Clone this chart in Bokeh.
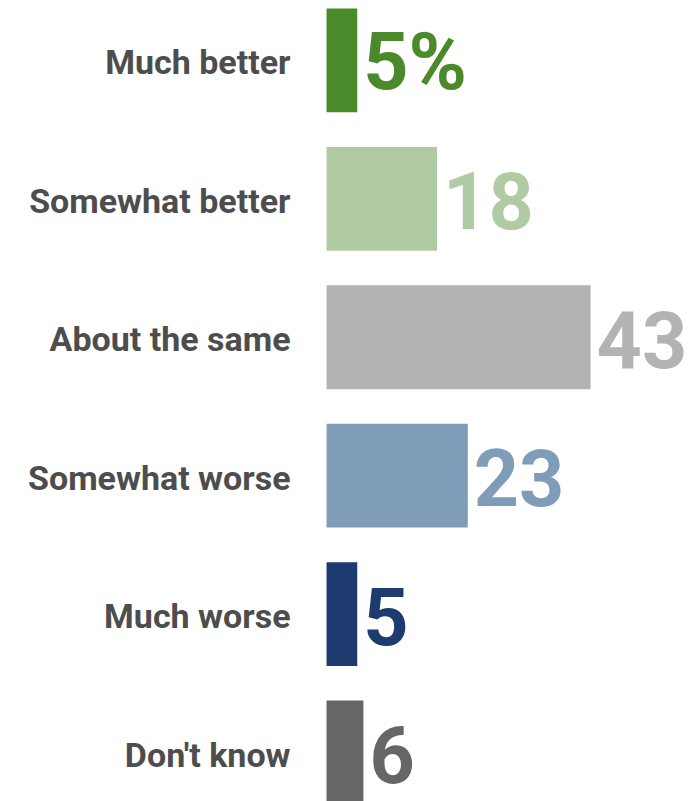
from bokeh.plotting import figure
from bokeh.models import ColumnDataSource, Range1d
from bokeh.core.properties import value
from bokeh.embed import file_html
from bokeh.resources import INLINE

categories = ["Much better", "Somewhat better", "About the same", "Somewhat worse", "Much worse", "Don't know"]
values = [5, 18, 43, 23, 5, 6]
value_labels = ["5%", "18", "43", "23", "5", "6"]
colors = ["#4b8a2b", "#b0cba4", "#b3b3b3", "#7f9db8", "#1d3b6f", "#666666"]

pos = list(range(len(categories)))
src = ColumnDataSource(dict(y=pos, v=values, cat=categories, lab=value_labels, col=colors,
                            zero=[0] * len(pos)))

p = figure(width=692, height=801, output_backend="svg", toolbar_location=None,
           x_range=Range1d(-53.1, 59.6), y_range=Range1d(5.354, -0.433),
           min_border=0, outline_line_color=None)
p.axis.visible = False
p.grid.visible = False

p.hbar(y="y", left=0, right="v", height=0.75, fill_color="col", line_color=None, source=src)

p.text(x="zero", y="y", text="cat", x_offset=-36, y_offset=2, text_align="right", text_baseline="middle",
       text_font=value("Roboto"), text_font_style="bold", text_font_size="34px",
       text_color="#4d4d4d", source=src)

p.text(x="v", y="y", text="lab", x_offset=6, y_offset=2, text_align="left", text_baseline="middle",
       text_font=value("Roboto"), text_font_style="bold", text_font_size="79px",
       text_color="col", source=src)

open("out.html", "w").write(file_html(p, INLINE))
